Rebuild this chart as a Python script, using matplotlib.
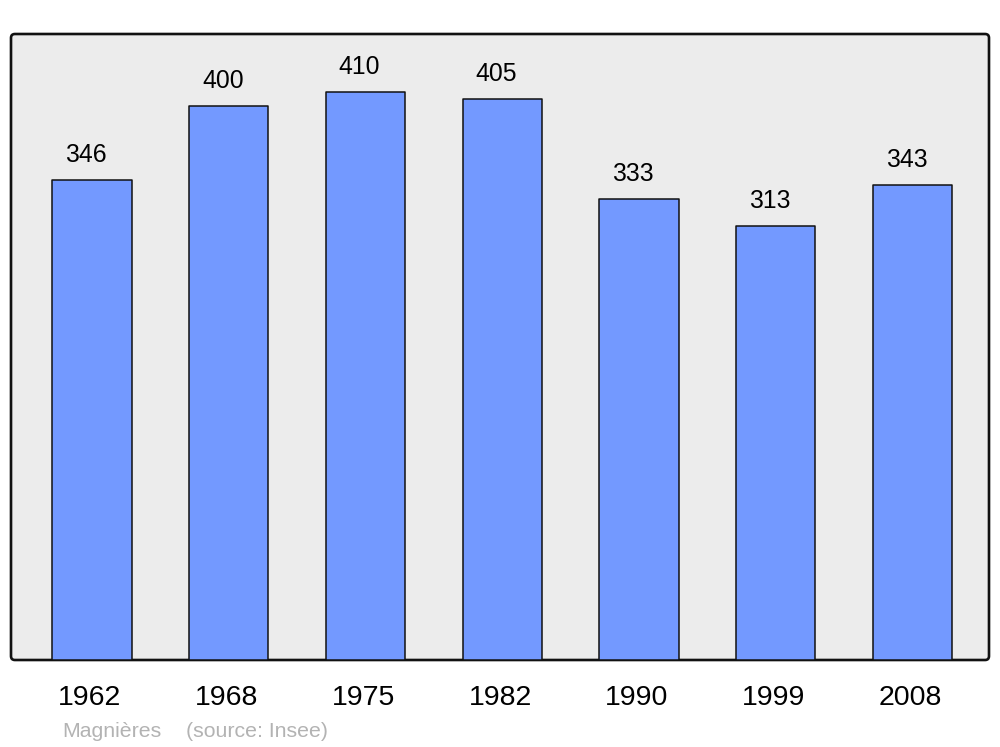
import matplotlib
matplotlib.use("Agg")
import matplotlib.pyplot as plt
from matplotlib.patches import FancyBboxPatch

years = ["1962", "1968", "1975", "1982", "1990", "1999", "2008"]
population = [346, 400, 410, 405, 333, 313, 343]
town = "Magnières"
source = "(source: Insee)"

plt.rcParams['font.family'] = ['Liberation Sans', 'DejaVu Sans']

fig = plt.figure(figsize=(10, 7.47), dpi=100)
ax = fig.add_axes([0.011, 1 - 660/747, 0.978, (660 - 34)/747])
ax.set_facecolor('none')
for s in ax.spines.values():
    s.set_visible(False)

frame = FancyBboxPatch((0, 0), 1, 1, boxstyle="round,pad=0,rounding_size=0.004",
                       transform=ax.transAxes, facecolor='#ececec', edgecolor='#111111',
                       linewidth=1.9, zorder=0, clip_on=False, mutation_aspect=978/626)
ax.add_patch(frame)

x = list(range(len(years)))
bars = ax.bar(x, population, width=0.58, color='#7399ff', edgecolor='#111111',
              linewidth=1.1, zorder=2)
for b in bars:
    b.set_joinstyle('round')

ax.set_xlim(-0.592, 6.56)
ax.set_ylim(0, 451.7)
ax.set_xticks([])
ax.set_yticks([])

for xi, v in zip(x, population):
    ax.annotate(str(v), xy=(xi, v), xytext=(-6, 18), textcoords='offset pixels',
                ha='center', va='baseline', fontsize=17.8, color='black', zorder=3)
    ax.annotate(years[xi], xy=(xi, 0), xytext=(-2, -45), textcoords='offset pixels',
                ha='center', va='baseline', fontsize=20.5, color='black',
                annotation_clip=False)

fig.text(62/1000, 1 - 737/747, town, fontsize=15.3, color='#b3b3b3', ha='left', va='baseline')
fig.text(186/1000, 1 - 737/747, source, fontsize=15.3, color='#b3b3b3', ha='left', va='baseline')

fig.savefig("out.png", dpi=100)
